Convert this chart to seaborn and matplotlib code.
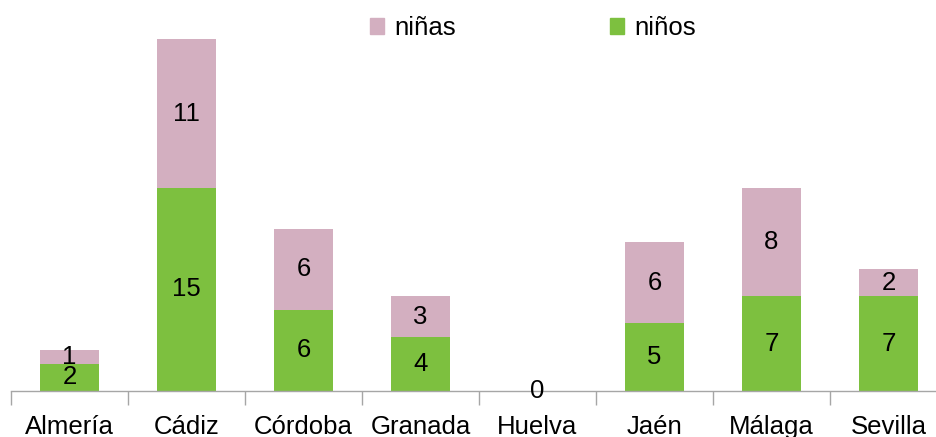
import matplotlib
matplotlib.use("Agg")
import matplotlib.pyplot as plt
import seaborn as sns
import pandas as pd
from matplotlib.patches import Patch

provincias = ["Almería", "Cádiz", "Córdoba", "Granada", "Huelva", "Jaén", "Málaga", "Sevilla"]
ninos = [2, 15, 6, 4, 0, 5, 7, 7]
ninas = [1, 11, 6, 3, 0, 6, 8, 2]

VERDE = "#7dc03f"
ROSA = "#d3afc0"
FS = 18.5

sns.set_theme(style="white")
plt.rcParams["font.family"] = ["Liberation Sans", "DejaVu Sans"]
plt.rcParams["text.color"] = "black"
plt.rcParams["xtick.color"] = "black"

df = pd.DataFrame({"provincia": provincias, "ninos": ninos, "ninas": ninas})
df["total"] = df["ninos"] + df["ninas"]

fig = plt.figure(figsize=(9.37, 4.37), dpi=100)
ax = fig.add_axes([11 / 937, 46 / 437, 936 / 937, 379 / 437])

# rosa = total (niñas encima), verde = niños abajo
sns.barplot(data=df, x="provincia", y="total", color=ROSA, width=0.5,
            saturation=1, ax=ax, linewidth=0)
sns.barplot(data=df, x="provincia", y="ninos", color=VERDE, width=0.5,
            saturation=1, ax=ax, linewidth=0)

for i, (a, b) in enumerate(zip(ninos, ninas)):
    if a + b == 0:
        ax.text(i, 0, "0", ha="center", va="center", fontsize=FS)
        continue
    ax.text(i, a / 2, str(a), ha="center", va="center", fontsize=FS)
    ax.text(i, a + b / 2, str(b), ha="center", va="center", fontsize=FS)

ax.set_xlim(-0.5, len(provincias) - 0.5)
ax.set_ylim(0, 28)
ax.set_xlabel("")
ax.set_ylabel("")
ax.set_yticks([])
ax.set_xticks([i - 0.5 for i in range(len(provincias) + 1)], minor=False)
ax.set_xticklabels([])
ax.set_xticks(range(len(provincias)), minor=True)
ax.set_xticklabels(provincias, minor=True, fontsize=FS, color="black")
ax.tick_params(axis="x", which="major", direction="out", length=10, width=1,
               color="#a6a6a6", bottom=True)
ax.tick_params(axis="x", which="minor", length=0, pad=17, bottom=True)
for s in ["top", "right", "left"]:
    ax.spines[s].set_visible(False)
ax.spines["bottom"].set_color("#a6a6a6")
ax.spines["bottom"].set_linewidth(1)

handles = [Patch(color=ROSA, label="niñas"), Patch(color=VERDE, label="niños")]
fig.legend(handles=handles, loc="center", bbox_to_anchor=(533 / 937, 1 - 28 / 437),
           ncol=2, frameon=False, fontsize=FS, handlelength=0.55, handleheight=0.55,
           handletextpad=0.4, columnspacing=6.0)

fig.savefig("out.png", dpi=100)
